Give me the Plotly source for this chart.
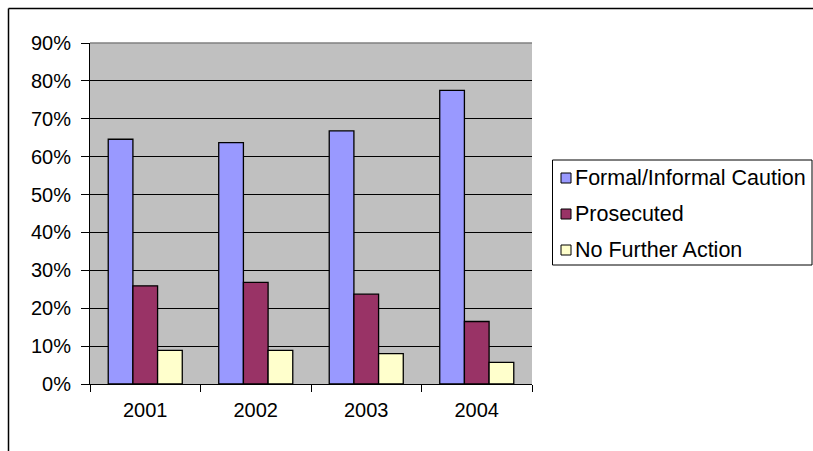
import plotly.graph_objects as go

years = ["2001", "2002", "2003", "2004"]
caution = [0.646, 0.637, 0.668, 0.775]
prosecuted = [0.259, 0.268, 0.237, 0.165]
no_action = [0.089, 0.089, 0.080, 0.057]
series_names = ["Formal/Informal Caution", "Prosecuted", "No Further Action"]
series_colors = ["#9999FF", "#993366", "#FFFFCC"]
y_ticks = [0, 0.1, 0.2, 0.3, 0.4, 0.5, 0.6, 0.7, 0.8, 0.9]

FONT = "Liberation Sans, Arial, sans-serif"

fig = go.Figure()
for name, vals, col in zip(series_names, [caution, prosecuted, no_action], series_colors):
    fig.add_trace(go.Bar(
        x=years, y=vals, name=name,
        marker=dict(color=col, line=dict(color="black", width=1.3)),
        showlegend=False,
    ))

W, H = 813, 451
L, T = 90, 43
PR, PB = 532, 384          # plot right / bottom in page coords
R, B = W - PR, H - PB
pw, ph = PR - L, PB - T

def px(x):
    return (x - L) / pw

def py(y):
    return (PB - y) / ph

shapes = [
    # grey top edge of plot area
    dict(type="line", xref="paper", yref="paper", x0=0, x1=1, y0=1, y1=1,
         line=dict(color="#808080", width=1.5), layer="above"),
    # outer chart frame (top and left edges)
    dict(type="line", xref="paper", yref="paper", x0=px(8.5), x1=px(830), y0=py(8.5), y1=py(8.5),
         line=dict(color="black", width=1.5)),
    dict(type="line", xref="paper", yref="paper", x0=px(8.5), x1=px(8.5), y0=py(8.5), y1=py(470),
         line=dict(color="black", width=1.5)),
    # legend box
    dict(type="rect", xref="paper", yref="paper", x0=px(552.5), x1=px(812), y0=py(160), y1=py(265),
         line=dict(color="black", width=1), fillcolor="white"),
]
annotations = []
centers = [178, 214, 250]
for name, col, c in zip(series_names, series_colors, centers):
    shapes.append(dict(type="rect", xref="paper", yref="paper",
                       x0=px(561), x1=px(571), y0=py(c - 5), y1=py(c + 5),
                       line=dict(color="black", width=1), fillcolor=col))
    annotations.append(dict(xref="paper", yref="paper", x=px(573), y=py(c),
                            xanchor="left", yanchor="middle", showarrow=False,
                            text=name, font=dict(family=FONT, size=21.5, color="black")))

fig.update_layout(
    width=W, height=H,
    margin=dict(l=L, r=R, t=T, b=B, autoexpand=False),
    paper_bgcolor="white",
    plot_bgcolor="#C0C0C0",
    barmode="group",
    bargap=0.33,
    bargroupgap=0,
    font=dict(family=FONT, size=20, color="black"),
    showlegend=False,
    xaxis=dict(
        type="category",
        showline=True, linecolor="black", linewidth=1,
        ticks="outside", tickson="boundaries", ticklen=7, tickcolor="black",
        showgrid=False,
        tickfont=dict(family=FONT, size=20),
        ticklabelstandoff=8,
    ),
    yaxis=dict(
        range=[0, 0.9],
        tickvals=y_ticks,
        tickformat=".0%",
        showline=True, linecolor="black", linewidth=1,
        ticks="outside", ticklen=8, tickcolor="black",
        showgrid=True, gridcolor="black", gridwidth=1,
        zeroline=False,
        tickfont=dict(family=FONT, size=20),
        ticklabelstandoff=6,
    ),
    shapes=shapes,
    annotations=annotations,
)

fig.write_html(
    "out.html",
    config={"displayModeBar": False},
    post_script="document.body.style.margin='0';document.documentElement.style.overflow='hidden';",
)
